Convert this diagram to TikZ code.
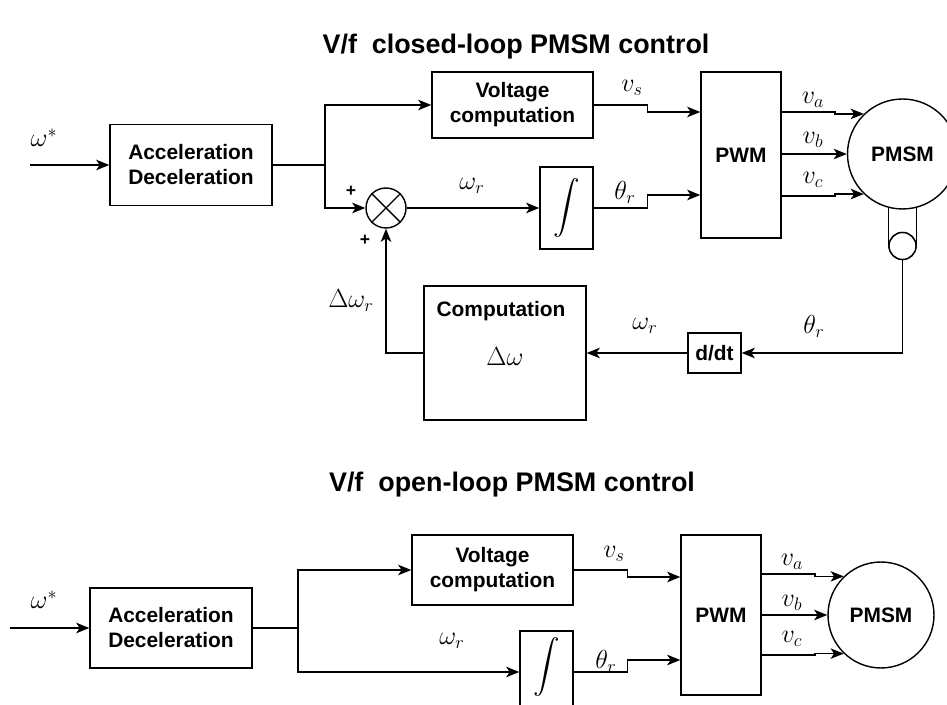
\documentclass[tikz,border=0pt]{standalone}
\usepackage{amsmath}
\usepackage{fontspec}
\setsansfont{Liberation Sans}
\usetikzlibrary{arrows.meta, positioning, shapes.geometric, calc}

\begin{document}
\begin{tikzpicture}[x=0.02cm, y=-0.02cm,
  block/.style={rectangle, draw, line width=0.8pt, inner sep=0pt, align=center,
                font=\sffamily\bfseries\fontsize{11.9}{14.2}\selectfont},
  motor/.style={circle, draw, fill=white, line width=0.8pt, inner sep=0pt,
                font=\sffamily\bfseries\fontsize{11.9}{14.2}\selectfont},
  sig/.style={-{Stealth[length=7.5pt, width=6pt, inset=2pt]}, line width=0.75pt},
  wire/.style={line width=0.75pt},
  lbl/.style={inner sep=0pt, font=\LARGE, scale=0.86},
  intsign/.style={inner sep=0pt, font=\Large, scale=1.05},
  sign/.style={inner sep=0pt, font=\sffamily\bfseries\fontsize{10}{12}\selectfont},
  title/.style={font=\sffamily\bfseries\fontsize{15.3}{18}\selectfont}
]
  \useasboundingbox (0,0) rectangle (947,705);
  \clip (0,0) rectangle (947,705);

  % closed loop
  \node[title] (title1) at (516,47) {V/f~~closed-loop PMSM control};

  \coordinate (in1) at (30,165);
  \coordinate (j1)  at (325,165);
  \node[block, minimum width=3.24cm, minimum height=1.62cm] (acc1) at (191,165) {Acceleration\\Deceleration};
  \node[block, minimum width=3.22cm, minimum height=1.32cm] (volt1) at (512.5,105) {Voltage\\computation};
  \node[circle, draw, line width=0.8pt, minimum size=0.8cm] (sum1) at (386,208) {};
  \draw[line width=0.8pt] (sum1.45) -- (sum1.225) (sum1.135) -- (sum1.315);
  \node[block, minimum width=1.06cm, minimum height=1.64cm] (int1) at (566.5,208) {};
  \node[intsign] at (int1) {$\displaystyle\int$};
  \node[block, minimum width=1.6cm, minimum height=3.32cm] (pwm1) at (741,155) {PWM};
  \node[circle, draw, fill=white, line width=0.8pt, minimum size=0.54cm] (pul1) at (902.5,246) {};
  \draw[wire] (pul1.west) -- ++(0,-90) (pul1.east) -- ++(0,-90);
  \node[circle, draw, fill=white, line width=0.8pt, minimum size=0.54cm] at (pul1) {};
  \node[motor, minimum size=2.2cm] (motor1) at (902.5,154) {PMSM};
  \node[block, minimum width=1.06cm, minimum height=0.8cm] (ddt1) at (714.5,353) {d/dt};
  \node[block, minimum width=3.24cm, minimum height=2.68cm] (comp1) at (505,353) {};
  \node[block, draw=none] at (501,311) {Computation};
  \node[lbl] at (505,357) {$\Delta\omega$};

  \draw[sig] (in1) -- (acc1.west);
  \draw[wire] (acc1.east) -- (j1);
  \draw[sig] (j1) |- (volt1.west);
  \draw[sig] (j1) |- (sum1.west);
  \draw[sig] (sum1.east) -- (int1.west);
  \draw[sig] (volt1.east) -- ++(54,0) |- (pwm1.west |- 0,112);
  \draw[sig] (int1.east) -- ++(54,0) |- (pwm1.west |- 0,195);
  \draw[sig] (pwm1.east |- 0,112) -- (835,112) |- (motor1.134);
  \draw[sig] (pwm1.east |- motor1.west) -- (motor1.west);
  \draw[sig] (pwm1.east |- 0,196) -- (835,196) |- (motor1.226);
  \draw[sig] (pul1.south) |- (ddt1.east);
  \draw[sig] (ddt1.west) -- (comp1.east);
  \draw[sig] (comp1.west) -| (sum1.south);

  \node[lbl] at (44,138) {$\omega^*$};
  \node[lbl] at (472,186) {$\omega_r$};
  \node[lbl] at (625,192) {$\theta_r$};
  \node[lbl] at (632,88) {$v_s$};
  \node[lbl] at (813,100) {$v_a$};
  \node[lbl] at (813,140) {$v_b$};
  \node[lbl] at (813,180) {$v_c$};
  \node[lbl] at (814,326) {$\theta_r$};
  \node[lbl] at (645,326) {$\omega_r$};
  \node[lbl] at (351,301) {$\Delta\omega_r$};
  \node[sign] at (351,191) {+};
  \node[sign] at (365,240) {+};

  % open loop
  \node[title] (title2) at (512,485) {V/f~~open-loop PMSM control};

  \coordinate (in2) at (10,628);
  \coordinate (j2)  at (298,628);
  \node[block, minimum width=3.24cm, minimum height=1.6cm] (acc2) at (171,628) {Acceleration\\Deceleration};
  \node[block, minimum width=3.22cm, minimum height=1.4cm] (volt2) at (492.5,570) {Voltage\\computation};
  \node[block, minimum width=1.06cm, minimum height=1.64cm] (int2) at (546.5,672) {};
  \node[intsign] at (546.5,667) {$\displaystyle\int$};
  \node[block, minimum width=1.6cm, minimum height=3.2cm] (pwm2) at (721,615) {PWM};
  \node[motor, minimum size=2.12cm] (motor2) at (881,615) {PMSM};

  \draw[sig] (in2) -- (acc2.west);
  \draw[wire] (acc2.east) -- (j2);
  \draw[sig] (j2) |- (volt2.west);
  \draw[sig] (j2) |- (int2.west);
  \draw[sig] (volt2.east) -- ++(54,0) |- (pwm2.west |- 0,577);
  \draw[sig] (int2.east) -- ++(54,0) |- (pwm2.west |- 0,660);
  \draw[sig] (pwm2.east |- 0,574) -- (815,574) |- (motor2.134);
  \draw[sig] (pwm2.east) -- (motor2.west);
  \draw[sig] (pwm2.east |- 0,655) -- (815,655) |- (motor2.226);

  \node[lbl] at (44,600) {$\omega^*$};
  \node[lbl] at (452,641) {$\omega_r$};
  \node[lbl] at (606,661) {$\theta_r$};
  \node[lbl] at (614,554) {$v_s$};
  \node[lbl] at (792,562) {$v_a$};
  \node[lbl] at (792,603) {$v_b$};
  \node[lbl] at (792,639) {$v_c$};
\end{tikzpicture}
\end{document}
